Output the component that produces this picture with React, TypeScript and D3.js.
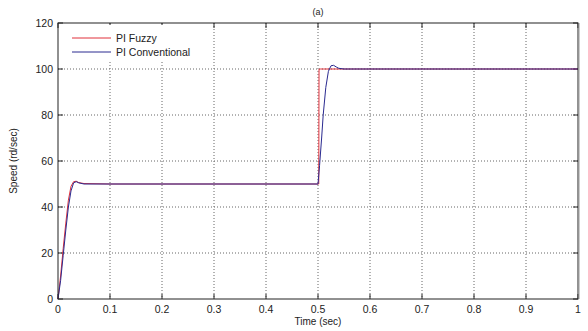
import React from "react";
import * as d3 from "d3";

const xTicks = [0, 0.1, 0.2, 0.3, 0.4, 0.5, 0.6, 0.7, 0.8, 0.9, 1];
const yTicks = [0, 20, 40, 60, 80, 100, 120];
const xTickLabels = ["0", "0.1", "0.2", "0.3", "0.4", "0.5", "0.6", "0.7", "0.8", "0.9", "1"];

const fuzzyT = [0, 0.005, 0.01, 0.015, 0.02, 0.025, 0.03, 0.035, 0.04, 0.05, 0.1, 0.2, 0.3, 0.4, 0.5015, 0.502, 0.505, 0.51, 0.6, 0.8, 1];
const fuzzyV = [0, 10, 22, 33, 43, 49, 51, 51.2, 50.6, 50.2, 50, 50, 50, 50, 50, 100, 100, 100, 100, 100, 100];

const convT = [0, 0.005, 0.01, 0.015, 0.02, 0.025, 0.03, 0.035, 0.04, 0.05, 0.1, 0.2, 0.3, 0.4, 0.5, 0.503, 0.507, 0.51, 0.515, 0.52, 0.525, 0.53, 0.535, 0.54, 0.55, 0.6, 0.8, 1];
const convV = [0, 8, 19, 30, 40, 47, 50.5, 51, 50.5, 50, 50, 50, 50, 50, 50, 58, 70, 80, 92, 99, 101.4, 101.6, 100.9, 100.3, 100, 100, 100, 100];

const W = 588, H = 331;
const m = { left: 58, right: 578, top: 23, bottom: 299 };

export default function App() {
  const x = d3.scaleLinear().domain([0, 1]).range([m.left, m.right]);
  const y = d3.scaleLinear().domain([0, 120]).range([m.bottom, m.top]);
  const line = d3.line<[number, number]>().x(d => x(d[0])).y(d => y(d[1]));
  const fuzzy = fuzzyT.map((t, i) => [t, fuzzyV[i]] as [number, number]);
  const conv = convT.map((t, i) => [t, convV[i]] as [number, number]);
  const font = "Arial, 'Liberation Sans', sans-serif";
  return (
    <svg width={W} height={H} style={{ position: "absolute", left: 0, top: 0, background: "#fff" }}>
      <rect x={0} y={0} width={W} height={H} fill="#fff" />
      {/* grid */}
      {xTicks.slice(1, -1).map(t => (
        <line key={"gx" + t} x1={x(t)} x2={x(t)} y1={m.top} y2={m.bottom} stroke="#666" strokeWidth={1} strokeDasharray="1,2" />
      ))}
      {yTicks.slice(1, -1).map(t => (
        <line key={"gy" + t} x1={m.left} x2={m.right} y1={y(t)} y2={y(t)} stroke="#666" strokeWidth={1} strokeDasharray="1,2" />
      ))}
      {/* ticks */}
      {xTicks.map(t => (
        <g key={"tx" + t}>
          <line x1={x(t)} x2={x(t)} y1={m.bottom} y2={m.bottom - 5} stroke="#222" />
          <line x1={x(t)} x2={x(t)} y1={m.top} y2={m.top + 5} stroke="#222" />
        </g>
      ))}
      {yTicks.map(t => (
        <g key={"ty" + t}>
          <line x1={m.left} x2={m.left + 5} y1={y(t)} y2={y(t)} stroke="#222" />
          <line x1={m.right} x2={m.right - 5} y1={y(t)} y2={y(t)} stroke="#222" />
        </g>
      ))}
      {/* legend background */}
      <rect x={60} y={25} width={142} height={35} fill="#fff" />
      {/* data */}
      <path d={line(fuzzy) || ""} fill="none" stroke="#e0303a" strokeWidth={1} />
      <path d={line(conv) || ""} fill="none" stroke="#2a2a90" strokeWidth={1} />
      {/* legend */}
      <line x1={72} x2={111} y1={38} y2={38} stroke="#e0303a" />
      <text x={116} y={42} fontFamily={font} fontSize={10.5} fill="#222">PI Fuzzy</text>
      <line x1={72} x2={111} y1={52} y2={52} stroke="#2a2a90" />
      <text x={116} y={56} fontFamily={font} fontSize={10.5} fill="#222">PI Conventional</text>
      {/* frame */}
      <rect x={m.left} y={m.top} width={m.right - m.left} height={m.bottom - m.top} fill="none" stroke="#222" strokeWidth={1} />
      <line x1={m.right + 1} x2={m.right + 1} y1={m.top} y2={m.bottom} stroke="#999" strokeWidth={1} />
      {/* tick labels */}
      {xTicks.map((t, i) => (
        <text key={"lx" + t} x={x(t)} y={313} textAnchor="middle" fontFamily={font} fontSize={10.5} fill="#222">{xTickLabels[i]}</text>
      ))}
      {yTicks.map(t => (
        <text key={"ly" + t} x={53} y={y(t) + 4} textAnchor="end" fontFamily={font} fontSize={10.5} fill="#222">{t}</text>
      ))}
      <text x={x(0.5)} y={325} textAnchor="middle" fontFamily={font} fontSize={10} fill="#222">Time (sec)</text>
      <text transform={`translate(17,${(m.top + m.bottom) / 2}) rotate(-90)`} textAnchor="middle" fontFamily={font} fontSize={10} fill="#222">Speed (rd/sec)</text>
      <text x={x(0.5)} y={15} textAnchor="middle" fontFamily={font} fontSize={9} fill="#222">(a)</text>
    </svg>
  );
}
